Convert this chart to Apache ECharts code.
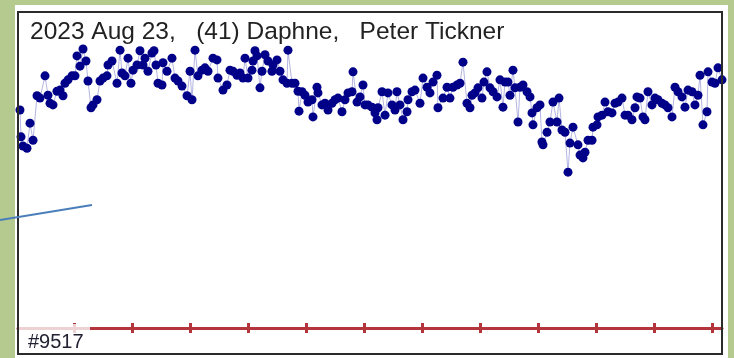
<!DOCTYPE html>
<html>
<head>
<meta charset="utf-8">
<script src="https://cdn.jsdelivr.net/npm/echarts@6/dist/echarts.min.js"></script>
<style>
  html, body { margin: 0; padding: 0; background: #b5ca8f; }
  #chart { width: 734px; height: 358px; }
</style>
</head>
<body>
<div id="chart"></div>
<script>
// Lightcurve of (41) Daphne, 2023 Aug 23 — time in hours from start, relative magnitude
const timeHours = [
  0.034, 0.052, 0.086, 0.155, 0.207, 0.259, 0.328, 0.379, 0.466, 0.517,
  0.552, 0.603, 0.672, 0.724, 0.776, 0.810, 0.862, 0.931, 0.983, 1.017,
  1.069, 1.121, 1.172, 1.207, 1.259, 1.293, 1.362, 1.414, 1.466, 1.534,
  1.552, 1.621, 1.707, 1.759, 1.793, 1.845, 1.897, 1.948, 1.983, 2.052,
  2.103, 2.155, 2.190, 2.241, 2.310, 2.345, 2.379, 2.414, 2.483, 2.500,
  2.569, 2.655, 2.707, 2.759, 2.828, 2.914, 2.966, 3.000, 3.052, 3.103,
  3.172, 3.224, 3.276, 3.362, 3.431, 3.448, 3.534, 3.603, 3.655, 3.707,
  3.776, 3.828, 3.879, 3.914, 3.966, 4.034, 4.052, 4.086, 4.121, 4.172,
  4.207, 4.259, 4.310, 4.379, 4.397, 4.466, 4.517, 4.569, 4.638, 4.655,
  4.724, 4.776, 4.828, 4.845, 4.897, 4.948, 5.000, 5.069, 5.086, 5.155,
  5.172, 5.241, 5.293, 5.345, 5.414, 5.466, 5.517, 5.586, 5.638, 5.690,
  5.759, 5.776, 5.845, 5.897, 5.948, 5.983, 6.034, 6.103, 6.155, 6.190,
  6.207, 6.276, 6.328, 6.379, 6.448, 6.500, 6.534, 6.586, 6.638, 6.707,
  6.724, 6.793, 6.845, 6.931, 6.983, 7.052, 7.103, 7.155, 7.224, 7.241,
  7.328, 7.397, 7.448, 7.500, 7.569, 7.621, 7.672, 7.741, 7.793, 7.828,
  7.879, 7.931, 8.000, 8.034, 8.086, 8.138, 8.190, 8.259, 8.310, 8.362,
  8.397, 8.448, 8.483, 8.534, 8.569, 8.621, 8.655, 8.707, 8.776, 8.828,
  8.862, 8.879, 8.948, 9.000, 9.034, 9.052, 9.121, 9.172, 9.224, 9.293,
  9.328, 9.379, 9.431, 9.483, 9.517, 9.569, 9.655, 9.690, 9.741, 9.776,
  9.828, 9.897, 9.914, 9.983, 10.000, 10.069, 10.121, 10.172, 10.241, 10.293,
  10.345, 10.414, 10.466, 10.517, 10.586, 10.638, 10.672, 10.724, 10.776, 10.810,
  10.862, 10.931, 10.983, 11.034, 11.103, 11.155, 11.207, 11.276, 11.328, 11.379,
  11.448, 11.500, 11.552, 11.621, 11.672, 11.724, 11.759, 11.810, 11.879, 11.897,
  11.966, 12.017, 12.069, 12.138
];
const relMag = [
  0.172, 0.219, 0.235, 0.239, 0.195, 0.225, 0.147, 0.151, 0.112, 0.146,
  0.160, 0.163, 0.139, 0.137, 0.147, 0.125, 0.119, 0.112, 0.112, 0.077,
  0.095, 0.065, 0.086, 0.121, 0.168, 0.163, 0.154, 0.121, 0.116, 0.112,
  0.093, 0.086, 0.125, 0.067, 0.107, 0.112, 0.081, 0.125, 0.102, 0.093,
  0.068, 0.093, 0.081, 0.104, 0.072, 0.068, 0.093, 0.125, 0.128, 0.089,
  0.104, 0.081, 0.116, 0.121, 0.130, 0.147, 0.104, 0.154, 0.067, 0.112,
  0.102, 0.098, 0.104, 0.081, 0.084, 0.116, 0.137, 0.128, 0.102, 0.104,
  0.111, 0.107, 0.116, 0.081, 0.116, 0.102, 0.086, 0.068, 0.077, 0.133,
  0.104, 0.075, 0.086, 0.104, 0.093, 0.084, 0.104, 0.119, 0.125, 0.067,
  0.125, 0.125, 0.139, 0.174, 0.140, 0.146, 0.158, 0.154, 0.184, 0.132,
  0.142, 0.163, 0.160, 0.172, 0.160, 0.154, 0.151, 0.175, 0.154, 0.142,
  0.140, 0.105, 0.158, 0.149, 0.128, 0.163, 0.163, 0.167, 0.177, 0.189,
  0.168, 0.140, 0.181, 0.142, 0.163, 0.172, 0.140, 0.163, 0.189, 0.175,
  0.154, 0.140, 0.137, 0.160, 0.116, 0.132, 0.142, 0.123, 0.111, 0.168,
  0.151, 0.132, 0.151, 0.132, 0.128, 0.125, 0.088, 0.160, 0.168, 0.146,
  0.142, 0.133, 0.151, 0.123, 0.105, 0.133, 0.140, 0.149, 0.119, 0.167,
  0.123, 0.123, 0.146, 0.102, 0.133, 0.193, 0.132, 0.128, 0.140, 0.149,
  0.177, 0.198, 0.168, 0.163, 0.228, 0.233, 0.211, 0.193, 0.158, 0.193,
  0.151, 0.207, 0.211, 0.281, 0.230, 0.202, 0.233, 0.251, 0.256, 0.246,
  0.225, 0.225, 0.202, 0.198, 0.184, 0.181, 0.158, 0.175, 0.177, 0.160,
  0.158, 0.151, 0.181, 0.181, 0.189, 0.168, 0.149, 0.151, 0.184, 0.189,
  0.140, 0.163, 0.151, 0.154, 0.160, 0.163, 0.168, 0.184, 0.132, 0.140,
  0.149, 0.167, 0.137, 0.140, 0.163, 0.146, 0.111, 0.198, 0.175, 0.105,
  0.123, 0.125, 0.098, 0.119
];
// whole-hour marks on the reference line
const hourTicks = [0.966, 1.966, 2.966, 3.966, 4.966, 5.966, 6.966, 7.966, 8.966, 9.966, 10.966, 11.966];
const titleText = '2023 Aug 23,   (41) Daphne,   Peter Tickner';
const frameLabel = '#9517';

const X_MAX = 12.138;
const chart = echarts.init(document.getElementById('chart'), null, { renderer: 'canvas' });

const points = timeHours.map((t, i) => [t, relMag[i]]);

chart.setOption({
  backgroundColor: '#b5ca8f',
  animation: false,
  grid: [
    { left: 18, top: 12, width: 704, height: 342, show: false },
    { left: 18, top: 328, width: 704, height: 0, show: false }
  ],
  xAxis: [
    { gridIndex: 0, type: 'value', min: 0, max: X_MAX, show: false },
    {
      gridIndex: 1, type: 'value', min: 0, max: X_MAX, position: 'bottom',
      splitLine: { show: false },
      axisLabel: { show: false },
      axisLine: { show: true, lineStyle: { color: '#b3343a', width: 3 } },
      axisTick: { show: true, length: 5, customValues: hourTicks, lineStyle: { color: '#b3343a', width: 3 } }
    },
    {
      gridIndex: 1, type: 'value', min: 0, max: X_MAX, position: 'top',
      splitLine: { show: false },
      axisLabel: { show: false },
      axisLine: { show: false },
      axisTick: { show: true, length: 5, customValues: hourTicks, lineStyle: { color: '#b3343a', width: 3 } }
    }
  ],
  yAxis: [
    { gridIndex: 0, type: 'value', inverse: true, min: 0, max: 0.6, show: false },
    { gridIndex: 1, type: 'value', min: -1, max: 1, show: false }
  ],
  series: [
    {
      type: 'line',
      xAxisIndex: 0, yAxisIndex: 0,
      data: points,
      symbol: 'circle',
      symbolSize: 9,
      itemStyle: { color: '#000088' },
      lineStyle: { color: 'rgba(40,40,170,0.35)', width: 1 },
      z: 5
    }
  ],
  graphic: [
    // white panel behind the plot
    { type: 'rect', z: -10, shape: { x: 15, y: 5, width: 713, height: 353 }, style: { fill: '#ffffff' } },
    // plot frame
    { type: 'rect', z: 50, shape: { x: 18, y: 12, width: 704, height: 342 }, style: { fill: null, stroke: '#2a2a2a', lineWidth: 2 } },
    // title
    { type: 'text', z: 60, left: 30, top: 20, style: { text: titleText, font: '24.5px "Liberation Sans", Arial, sans-serif', fill: '#222222' } },
    // frame number box and label
    { type: 'rect', z: 40, shape: { x: 19, y: 324, width: 71, height: 30 }, style: { fill: 'rgba(255,255,255,0.78)' } },
    { type: 'text', z: 60, left: 28, top: 332, style: { text: frameLabel, font: '20px "Liberation Sans", Arial, sans-serif', fill: '#222233' } },
    // pointer line
    { type: 'line', z: 70, shape: { x1: 0, y1: 220, x2: 92, y2: 205 }, style: { stroke: '#4a7ebb', lineWidth: 2 } }
  ]
});
</script>
</body>
</html>
